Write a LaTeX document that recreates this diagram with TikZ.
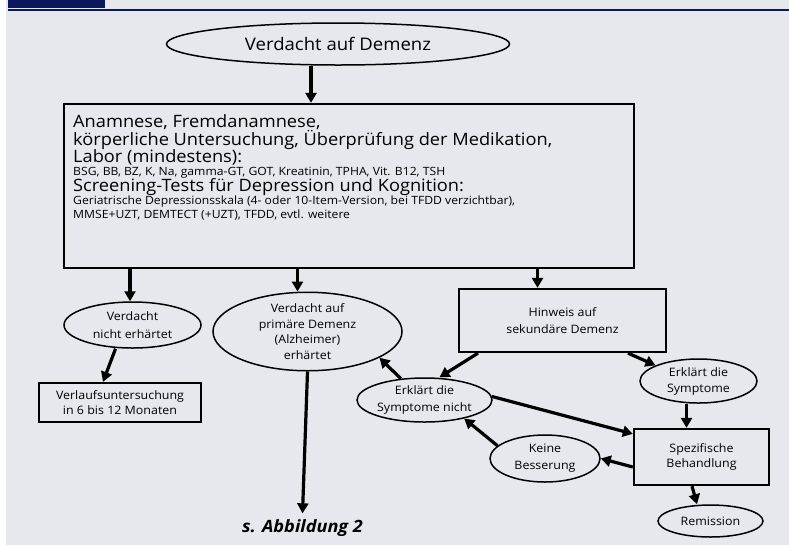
\documentclass[tikz,border=0pt]{standalone}
\usepackage{fontspec}
\usepackage{graphicx}
\setmainfont{Open Sans}[FakeStretch=1.07]
\usetikzlibrary{arrows.meta,calc,shapes.geometric}
\definecolor{bgc}{RGB}{231,232,238}
\definecolor{navy}{RGB}{10,25,95}
\newcommand\fitl[2]{\resizebox{#1}{!}{#2}}
\newlength\tmpw
\begin{document}
\settowidth\tmpw{\fontsize{10}{12}\selectfont körperliche Untersuchung, Überprüfung der Medikation,}%
\pgfmathsetmacro\bigsz{10*479/\tmpw}%
\settowidth\tmpw{\fontsize{10}{12}\selectfont Geriatrische Depressionsskala (4- oder 10-Item-Version, bei TFDD verzichtbar),}%
\pgfmathsetmacro\smallsz{10*442/\tmpw}%
\settowidth\tmpw{\fontsize{10}{12}\selectfont Verlaufsuntersuchung}%
\pgfmathsetmacro\nodesz{10*128/\tmpw}%
\begin{tikzpicture}[x=1pt,y=-1pt,
  ell/.style={draw,ellipse,line width=1.5pt,inner sep=0pt,align=center,font=\fontsize{\nodesz}{16}\selectfont},
  boxn/.style={draw,rectangle,line width=2.3pt,inner sep=0pt,align=center,font=\fontsize{\nodesz}{16}\selectfont},
  arr/.style={line width=3.2pt,-{Triangle[length=10pt,width=11pt]}},
  bigt/.style={anchor=west,inner sep=0pt,font=\fontsize{\bigsz}{18}\selectfont},
  smallt/.style={anchor=west,inner sep=0pt,font=\fontsize{\smallsz}{12}\selectfont},
]
\useasboundingbox (0,0) rectangle (789,547);
\fill[white] (0,0) rectangle (789,547);
\fill[bgc] (6,0) rectangle (789,545);
\fill[navy] (8,0) rectangle (105,8);
\fill[navy] (8,8.5) rectangle (789,10.5);

\node[ell,minimum width=343pt,minimum height=42pt] (top) at (338,44) {\fitl{186pt}{Verdacht auf Demenz}};
\node[boxn,minimum width=570pt,minimum height=164pt] (main) at (349,186) {};
\node[bigt] (l1) at (73,122) {Anamnese, Fremdanamnese,};
\node[bigt] (l2) at (73,140) {körperliche Untersuchung, Überprüfung der Medikation,};
\node[bigt] (l3) at (73,157) {Labor (mindestens):};
\node[smallt] (l4) at (73,173) {BSG, BB, BZ, K, Na, gamma-GT, GOT, Kreatinin, TPHA, Vit. B12, TSH};
\node[bigt] (l5) at (73,187.5) {Screening-Tests für Depression und Kognition:};
\node[smallt] (l6) at (73,202) {Geriatrische Depressionsskala (4- oder 10-Item-Version, bei TFDD verzichtbar),};
\node[smallt] (l7) at (73,215.5) {MMSE+UZT, DEMTECT (+UZT), TFDD, evtl. weitere};

\node[ell,minimum width=137pt,minimum height=46pt,font=\fontsize{\nodesz}{18}\selectfont] (nv) at (132.5,325) {Verdacht\\nicht erhärtet};
\node[boxn,minimum width=162pt,minimum height=39pt,font=\fontsize{\nodesz}{15}\selectfont] (verl) at (120,402.5) {Verlaufsuntersuchung\\in 6 bis 12 Monaten};
\node[ell,minimum width=189pt,minimum height=77pt,font=\fontsize{\nodesz}{15.5}\selectfont] (prim) at (307.5,331.5) {Verdacht auf\\primäre Demenz\\(Alzheimer)\\erhärtet};
\node[inner sep=0pt,font=\bfseries\itshape] (abb) at (302.5,528) {\fitl{121pt}{s. Abbildung 2}};
\node[boxn,minimum width=207pt,minimum height=63pt,font=\fontsize{\nodesz}{17}\selectfont] (hin) at (562.5,320.5) {Hinweis auf\\sekundäre Demenz};
\node[ell,minimum width=135pt,minimum height=44pt,font=\fontsize{\nodesz}{17}\selectfont] (esn) at (424.5,400) {Erklärt die\\Symptome nicht};
\node[ell,minimum width=117pt,minimum height=44pt] (es) at (698.5,381) {Erklärt die\\Symptome};
\node[boxn,minimum width=135pt,minimum height=56pt,font=\fontsize{\nodesz}{15}\selectfont] (spez) at (701.5,457) {Spezifische\\Behandlung};
\node[ell,minimum width=110pt,minimum height=47pt,font=\fontsize{\nodesz}{17}\selectfont] (kb) at (545,458.5) {Keine\\Besserung};
\node[ell,minimum width=105pt,minimum height=32pt] (rem) at (710.5,521) {Remission};

\draw[arr] ([xshift=-27pt]top.south) -- ([xshift=-27pt]top.south |- main.north);
\draw[arr] ([xshift=-2.5pt]nv.north |- main.south) -- ([xshift=-2.5pt]nv.north);
\draw[arr] ([xshift=-17pt]nv.south) -- ([xshift=-17pt]verl.north);
\draw[arr] ([xshift=-10pt]prim.north |- main.south) -- ([xshift=-10pt]prim.north);
\draw[arr] (prim.south) -- ([yshift=6pt]abb.north);
\draw[arr] ([xshift=-25pt]hin.north |- main.south) -- ([xshift=-25pt]hin.north);
\draw[arr] ([xshift=-84.5pt]hin.south) -- ([xshift=15pt]esn.north);
\draw[arr] ([xshift=65.5pt]hin.south) -- (es.160);
\draw[arr] ([xshift=-15pt]spez.north |- es.south) -- ([xshift=-15pt]spez.north);
\draw[arr] (esn.138) -- (prim.340);
\draw[arr] (esn.3) -- ([yshift=-6pt]spez.north west);
\draw[arr] ([yshift=-10pt]spez.west) -- (kb.east);
\draw[arr] (kb.165) -- (esn.335);
\draw[arr] ([xshift=-9.5pt]spez.south) -- ([xshift=-13.5pt]rem.north);
\end{tikzpicture}
\end{document}
